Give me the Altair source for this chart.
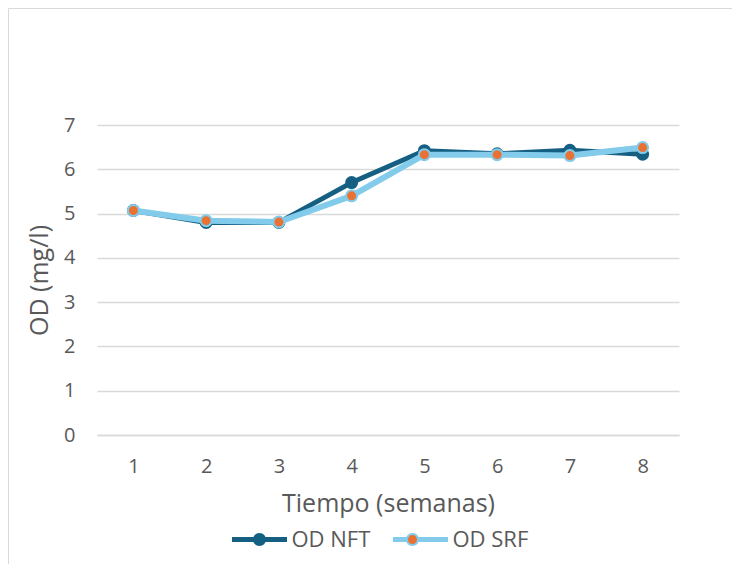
import altair as alt
import pandas as pd

# ---- data ----
weeks = ["1", "2", "3", "4", "5", "6", "7", "8"]
od_nft = [5.07, 4.80, 4.80, 5.70, 6.42, 6.35, 6.43, 6.34]
od_srf = [5.07, 4.84, 4.81, 5.40, 6.33, 6.33, 6.31, 6.49]
series_names = ["OD NFT", "OD SRF"]
y_ticks = [0, 1, 2, 3, 4, 5, 6, 7]

line_colors = ["#156082", "#83CBEB"]
marker_fills = ["#156082", "#E97132"]

FONT = "Open Sans"
TXT = "#595959"
GRID = "#d9d9d9"

df = pd.DataFrame({
    "semana": weeks * 2,
    "od": od_nft + od_srf,
    "serie": [series_names[0]] * len(weeks) + [series_names[1]] * len(weeks),
})
df["serie_f"] = df["serie"]
df["serie_c"] = df["serie"]

W, H = 582, 310
LX, LY = 132.5, 384.5

x_enc = alt.X(
    "semana:O", sort=weeks, title="Tiempo (semanas)",
    axis=alt.Axis(labelAngle=0, ticks=False, domain=True, domainColor=GRID,
                  domainWidth=1.5, grid=False, labelFontSize=20, labelColor=TXT,
                  labelPadding=21, titleFontSize=25, titleColor=TXT,
                  titleFontWeight="normal", titlePadding=15,
                  labelFont=FONT, titleFont=FONT),
)
y_enc = alt.Y(
    "od:Q", scale=alt.Scale(domain=[0, 7]), title="OD (mg/l)",
    axis=alt.Axis(values=y_ticks, ticks=False, domain=False, grid=True,
                  gridColor=GRID, gridWidth=1.5, labelFontSize=20, labelColor=TXT,
                  labelPadding=22, titleFontSize=25, titleColor=TXT,
                  titleFontWeight="normal", titlePadding=11,
                  labelFont=FONT, titleFont=FONT),
)


def circle_path(r):
    return ("M-1,0L-1,0M1,0L1,0"
            f"M{r},0A{r},{r},0,1,1,{-r},0A{r},{r},0,1,1,{r},0Z")


common = dict(title=None, orient="none", legendX=LX, legendY=LY, direction="horizontal",
              symbolOpacity=1, labelFontSize=22, labelColor=TXT, labelFont=FONT,
              labelOffset=2, columnPadding=12, padding=0)

legend_line = alt.Legend(symbolType="stroke", symbolSize=3025, symbolStrokeWidth=5,
                         zindex=1, **common)
legend_ring = alt.Legend(symbolType=circle_path(0.2167), symbolSize=3600, symbolStrokeWidth=0,
                         labelOpacity=0, zindex=2, **common)
legend_dot = alt.Legend(symbolType=circle_path(0.15), symbolSize=3600, symbolStrokeWidth=0,
                        labelOpacity=0, zindex=3, **common)

stroke_enc = alt.Stroke("serie:N", scale=alt.Scale(domain=series_names, range=line_colors),
                        legend=legend_line)
fill_enc = alt.Fill("serie_f:N", scale=alt.Scale(range=marker_fills), legend=legend_dot)
ring_enc = alt.Color("serie_c:N", scale=alt.Scale(range=line_colors), legend=legend_ring)

base = alt.Chart(df)


def line_layer(name, width):
    return base.transform_filter(alt.datum.serie == name).mark_line(
        strokeWidth=width, strokeJoin="round", strokeCap="round"
    ).encode(x=x_enc, y=y_enc, stroke=stroke_enc)


def point_layer(name):
    return base.transform_filter(alt.datum.serie == name).mark_point(
        filled=True, shape="circle", size=121, strokeWidth=2, opacity=1
    ).encode(x=x_enc, y=y_enc, stroke=stroke_enc, fill=fill_enc)


# zero-size layer that only carries the legend's marker rings
ring_layer = base.mark_point(filled=True, size=0, strokeWidth=0, opacity=1).encode(
    x=x_enc, y=y_enc, color=ring_enc
)

frame_left = alt.Chart(pd.DataFrame({"a": [0]})).mark_rule(color=GRID, strokeWidth=1).encode(
    x=alt.value(-88.5), y=alt.value(-116.5), y2=alt.value(H + 300))
frame_top = alt.Chart(pd.DataFrame({"a": [0]})).mark_rule(color=GRID, strokeWidth=1).encode(
    x=alt.value(-88.5), x2=alt.value(W + 200), y=alt.value(-116.5))

chart = alt.layer(
    frame_left, frame_top, ring_layer,
    line_layer(series_names[0], 5), point_layer(series_names[0]),
    line_layer(series_names[1], 6), point_layer(series_names[1]),
).properties(
    width=W, height=H,
    autosize=alt.AutoSizeParams(type="none"),
    padding={"left": 89, "top": 117, "right": 53, "bottom": 129},
).configure_view(stroke=None)

chart.save("out.html", embed_options={"renderer": "svg", "actions": False})
